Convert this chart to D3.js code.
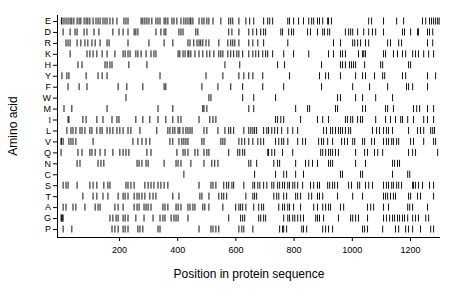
<!DOCTYPE html>
<html><head><meta charset="utf-8">
<script src="https://cdnjs.cloudflare.com/ajax/libs/d3/7.8.5/d3.min.js"></script>
<style>body{margin:0;background:#fff}svg{display:block}text{font-family:"Liberation Sans",Arial,sans-serif;fill:#000}</style>
</head><body><svg id="c" width="460" height="299"></svg>
<script>
const aminoAcids = ["E","D","R","K","H","Y","F","W","M","I","L","V","Q","N","C","S","T","A","G","P"];
const xTicks = [200,400,600,800,1000,1200];
const proteinLength = 1300;
const posE = [2,4,11,18,25,32,38,45,56,63,69,80,87,93,100,111,121,128,135,145,152,159,169,179,193,217,224,231,276,282,289,296,303,313,327,334,341,355,361,368,382,389,399,413,423,430,437,444,447,454,475,485,492,502,509,523,550,577,584,591,612,636,649,663,697,711,718,728,780,786,800,817,834,852,862,869,882,889,900,917,920,930,1058,1068,1109,1154,1178,1243,1254,1267,1274,1281,1288,1295,1300];
const posD = [8,32,49,56,80,90,114,131,179,200,214,231,252,258,265,327,344,355,361,406,413,420,464,471,577,588,612,646,660,673,687,697,704,756,762,783,793,800,848,858,882,900,906,917,924,978,989,996,1003,1020,1041,1058,1071,1082,1109,1174,1181,1202,1226,1229,1260,1267,1278];
const posR = [18,25,32,56,69,83,93,107,118,135,159,166,231,303,355,385,437,444,457,468,475,481,488,499,509,543,574,584,591,598,612,646,660,677,697,780,937,961,1003,1010,1020,1030,1047,1058,1123,1133,1161,1171,1260,1278];
const posK = [32,90,100,111,124,142,159,186,214,221,231,238,258,265,276,293,310,320,327,403,409,420,427,437,440,447,461,475,488,502,512,526,543,550,557,574,584,594,605,612,625,646,660,670,680,694,704,711,728,766,800,852,920,937,961,968,978,1023,1037,1041,1047,1109,1116,1143,1157,1174,1185,1209,1219,1229,1247,1264,1281];
const posH = [59,73,152,159,169,176,234,296,564,615,745,769,896,961,968,978,992,999,1006,1013,1044,1099,1106,1195,1202];
const posY = [4,21,28,87,128,142,159,341,499,557,612,629,646,660,694,786,889,910,920,961,1013,1037,1047,1078,1106,1113,1174,1185,1260,1288];
const posF = [25,63,90,197,227,282,355,361,485,540,584,625,694,766,896,1003,1061,1123,1188,1195,1209,1260];
const posW = [224,509,516,625,663,738,951,961,1013,1037,1082,1140];
const posM = [11,38,159,334,385,488,492,502,646,663,807,848,855,944,951,1037,1047,1116,1123,1143,1212,1223,1233,1260,1281];
const posI = [25,28,76,87,124,145,176,193,200,258,282,306,334,361,385,403,413,475,512,523,533,738,745,756,766,824,882,900,920,978,985,996,1003,1020,1030,1037,1082,1116,1133,1150,1168,1174,1192,1212,1247,1260,1281];
const posL = [21,35,42,52,66,73,83,100,107,124,135,142,159,169,179,193,203,214,231,241,272,330,368,375,385,392,403,409,420,430,437,444,451,492,502,540,564,577,584,594,629,646,653,660,666,673,697,708,714,725,735,745,759,780,797,814,903,913,927,934,944,954,961,968,978,989,996,1071,1085,1095,1109,1119,1126,1140,1195,1226,1236,1247,1271,1278,1284];
const posV = [1,2,8,28,35,42,52,111,248,265,279,293,306,375,385,406,416,423,430,437,485,492,550,557,564,612,622,632,646,660,677,687,697,738,749,759,766,780,814,831,841,886,896,903,917,934,965,975,985,1003,1010,1037,1044,1068,1078,1109,1119,1126,1137,1143,1154,1161,1202,1212,1247,1281,1288];
const posQ = [1,59,73,100,107,118,135,152,179,203,214,224,234,296,310,399,420,427,437,461,471,492,502,509,577,608,615,625,632,711,714,725,735,762,797,893,900,910,920,927,934,944,954,1013,1044,1054,1078,1089,1106,1195,1209,1219,1295];
const posN = [56,66,128,138,148,262,269,279,293,300,355,396,403,413,447,492,519,529,540,646,653,673,732,745,752,807,841,852,865,882,920,927,934,1013,1047,1140,1147,1157,1164];
const posC = [423,666,738,766,776,807,834,961,968,1030,1037,1140,1192,1199];
const posS = [8,18,25,56,100,111,124,148,162,169,224,231,241,252,289,300,310,320,334,344,355,368,475,516,523,533,560,570,577,588,594,629,660,666,677,684,697,708,725,732,745,752,762,769,780,786,797,804,814,831,858,869,882,889,917,924,934,941,951,989,999,1020,1027,1047,1058,1071,1109,1119,1126,1137,1143,1154,1161,1171,1209,1212,1219,1229,1243,1267,1281];
const posT = [76,111,124,145,162,197,214,221,231,252,262,269,279,289,306,317,327,385,406,478,485,509,543,553,560,570,636,660,666,673,732,742,749,766,776,807,814,824,852,862,882,889,900,951,1003,1037,1109,1116,1123,1133,1143,1150,1195,1202,1226,1236,1281];
const posA = [8,18,42,52,83,118,128,135,186,197,214,252,262,269,286,293,300,310,351,358,368,396,403,413,437,444,454,461,488,495,509,557,601,612,618,625,636,663,680,690,697,749,762,769,780,786,800,824,869,882,900,910,920,927,961,972,1054,1065,1075,1109,1126,1192,1199,1209,1260];
const posG = [1,3,5,8,169,179,190,197,214,221,231,258,286,317,341,351,358,379,389,396,403,437,577,618,625,632,680,687,697,704,766,780,786,797,804,814,824,834,876,882,889,903,954,996,1003,1013,1023,1054,1109,1119,1130,1140,1147,1157,1164,1174,1181,1192,1209,1219,1229,1254,1264];
const posP = [8,38,176,186,197,214,221,231,265,272,282,334,341,475,516,523,533,543,612,622,629,660,752,762,766,776,828,834,845,900,910,920,934,1037,1044,1054,1106,1150,1161,1185,1195,1209,1236,1271,1281];

const positions = {E:posE,D:posD,R:posR,K:posK,H:posH,Y:posY,F:posF,W:posW,M:posM,I:posI,L:posL,V:posV,Q:posQ,N:posN,C:posC,S:posS,T:posT,A:posA,G:posG,P:posP};

const svg = d3.select("#c");
const x = d3.scaleLinear().domain([-13, 1303]).range([57, 440]);
const y = d3.scalePoint().domain(aminoAcids).range([21, 229]);

const marks = [];
aminoAcids.forEach(a => positions[a].forEach(p => marks.push({a, p})));

svg.append("g").selectAll("line").data(marks).join("line")
  .attr("x1", d => x(d.p)).attr("x2", d => x(d.p))
  .attr("y1", d => y(d.a) - 3.5).attr("y2", d => y(d.a) + 3.5)
  .attr("stroke", "#111").attr("stroke-width", 1);

const ya = svg.append("g").attr("transform", "translate(57,0)")
  .call(d3.axisLeft(y).tickSize(4).tickPadding(2));
ya.select(".domain").attr("d", "M0.5,15V237.5");
ya.selectAll("text").attr("font-size", 9).attr("fill", "#000");

const xa = svg.append("g").attr("transform", "translate(0,237)")
  .call(d3.axisBottom(x).tickValues(xTicks).tickFormat(d3.format("d")).tickSize(4).tickPadding(6));
xa.select(".domain").attr("d", "M57,0.5H440");
xa.selectAll("text").attr("font-size", 9).attr("fill", "#000");

svg.append("text").attr("x", 249).attr("y", 278).attr("text-anchor", "middle")
  .attr("font-size", 12).text("Position in protein sequence");
svg.append("text").attr("transform", "translate(17,126) rotate(-90)").attr("text-anchor", "middle")
  .attr("font-size", 12).text("Amino acid");
</script></body></html>
